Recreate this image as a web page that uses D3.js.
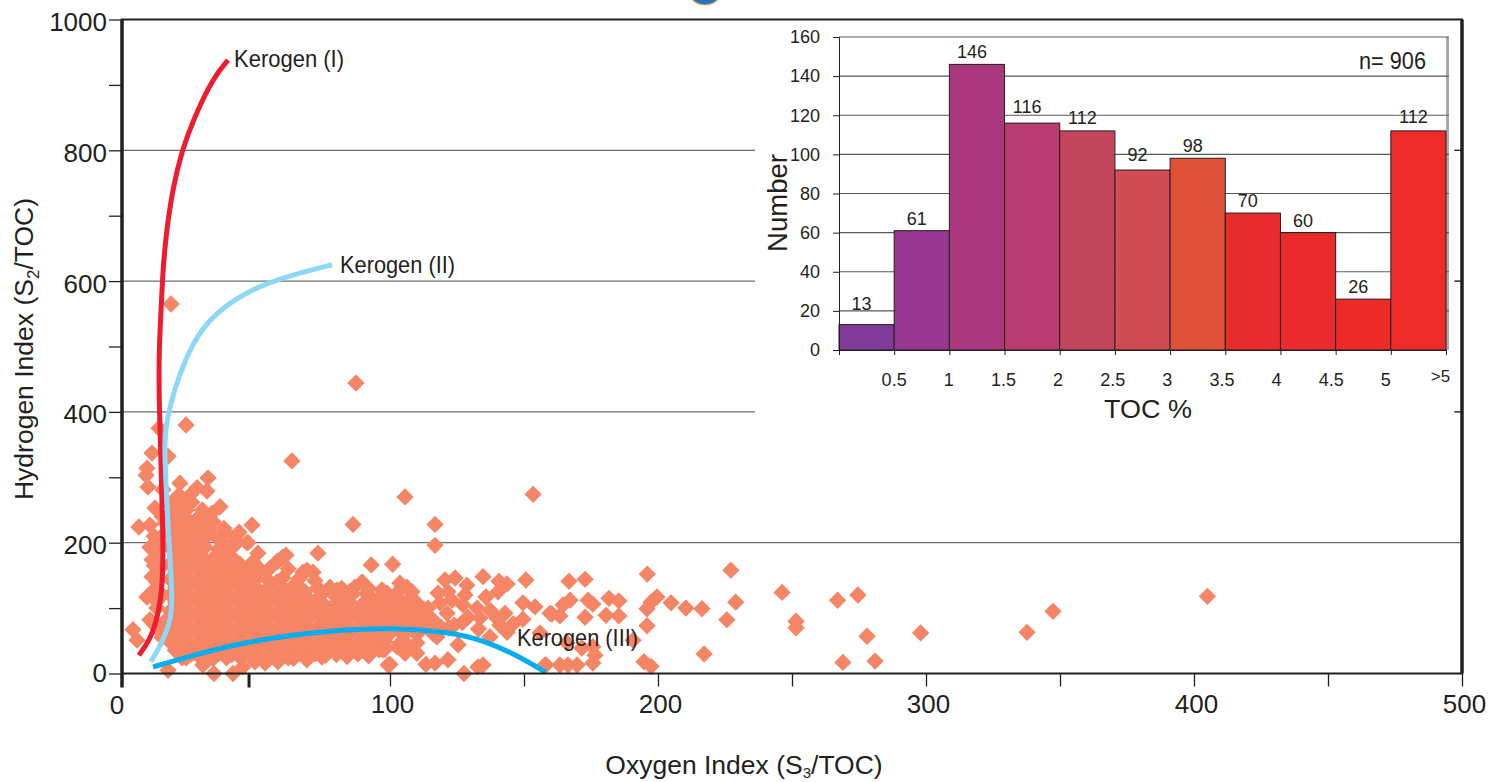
<!DOCTYPE html>
<html>
<head>
<meta charset="utf-8">
<script src="https://cdn.jsdelivr.net/npm/d3@7"></script>
<style>
  body { margin: 0; background: #fff; }
  text { font-family: "Liberation Sans", Arial, sans-serif; fill: #231f20; }
</style>
</head>
<body>
<div id="chart"></div>
<script>
// histogram of TOC
const tocLabels = ["0.5", "1", "1.5", "2", "2.5", "3", "3.5", "4", "4.5", "5", ">5"];
const tocCounts = [13, 61, 146, 116, 112, 92, 98, 70, 60, 26, 112];
const tocColors = ["#7f3b97", "#973792", "#a9387e", "#b83c70", "#c3475c", "#cf4b4f", "#e0513a", "#e82c2d", "#e92b2b", "#ee2a29", "#ef2b29"];
const countTicks = [0, 20, 40, 60, 80, 100, 120, 140, 160];

// maturation paths, [oxygen index, hydrogen index]
const kerogenI = [[39.6,938],[34,911],[26.5,846],[22.4,800],[19,743],[16.8,683],[15.3,622],[14.6,556],[13.8,495],[13.8,418],[14.6,316],[15.3,215],[15.3,138],[13.4,86],[10.4,51],[6.3,28]];
const kerogenII = [[78.4,625],[60,606],[47.8,586],[37.3,559],[29.1,525],[23.5,479],[19.4,433],[16.8,388],[15.7,357],[16.4,291],[17.5,200],[19,112],[17.9,77],[14.9,47],[10.8,18]];
const kerogenIII = [[11.6,10],[26.5,28],[45,47],[63.8,59],[82.5,67],[100,70],[122.4,63],[134.7,51],[147.4,28],[158,2]];

// samples, [oxygen index, hydrogen index]
const outliers = [
  [18.3,565],[87.3,444],[63.4,325],[23.9,380],[105.6,270],[153.4,274],[86.2,228],[116.8,228],[116.8,196],[227.2,158],
  [101,167],[93,166],[196,152],[246.3,124],[267,112],[274.6,120],[347.4,95],[405,118],[337.7,63],[298,62],[278,57],
  [269,17],[281,19],[251.5,80],[251.5,70],[229,109],[225.7,82],[217.2,30],[216.4,99],[210.4,100],[204.9,108],
  [199.6,117],[197.4,109],[195.9,99],[194.8,18],[197.4,11],[195.9,73]
];
const midSamples = [
  [172.8,144],[166.8,141],[150.7,143],[143.7,137],[140.7,141],[134.7,148],[124.3,146],[120.5,143],[128.7,135],[181.7,115],
  [185.4,111],[180.6,89],[185.4,88],[173.9,112],[175.7,106],[172.8,86],[167.2,112],[164.6,105],[160.4,91],[163.4,88],
  [154.1,102],[149.6,108],[149.6,83],[190.7,51],[156,62],[166,47],[171.6,39],[175.7,41],[176.5,28],[175.7,16],
  [169.8,13],[166.4,13],[163.4,13],[157.8,13],[134.7,13],[132.8,10],[127.6,0],[121.6,21],[116.8,16],[113.4,14],
  [125.4,44],[117.5,56],[143.7,63],[106.3,132],[103.7,138],[98.9,123],[102.6,123],[108.2,125],[106.7,112],[117.9,123],
  [121.6,125],[128,120],[135.8,117],[140.3,125],[114.2,100],[118.7,108],[123.1,112],[127.2,105],[132.5,100],[137.3,97],
  [142.9,92],[116,82],[121.3,92],[129.1,86],[133.6,85],[141,74],[137.3,56],[159.7,92],[158.2,13],[110,47],[106.3,36],
  [110,31],[100,14],[97.4,36],[102.6,41],[108.6,86],[103.7,92],[100,97],[97.4,112],[103.7,66],[110,66],[98.9,77],
  [104.8,51],[113,74],[124,74],[133,68],[127,78],[140,84],[146,76],[122,70]
];
const upperSamples = [
  [46.6,200],[50.7,184],[48.9,171],[60,178],[57.8,171],[73.1,184],[69,158],[71.3,155],[77.6,132],[80.2,128],[68.3,125],
  [89.6,140],[86.9,132],[63.4,132],[57.8,140],[51.5,151],[44,166],[47.8,148],[41.4,154],[72,108],[84.3,117],[91.4,123],
  [13.8,375],[11.2,337],[17.2,332],[9.3,314],[9,303],[9.7,285],[21.6,291],[32.1,299],[31.7,279],[28,284],[25.4,273],
  [20.5,270],[12.3,253],[17.2,261],[15.3,281],[36.6,255],[33.6,245],[27.6,235],[26.5,222],[6.3,224],[10.4,227],[16,230],
  [22.4,239],[24.3,219],[48.5,227],[43.7,216],[35.8,206],[47,200],[31,193],[61.2,181],[58.2,172],[67.5,155],
  [10.4,193],[11.2,174],[11.2,148],[9.3,117],[4.1,67],[5.6,51],[10.4,82],
  [14,200],[13,180],[14,160],[13,140],[15,120],[13,100],[16,80],[14,65],[18,50],[20,35],[16,215],[19,245],[22,255],[15,240],
  [12,210],[12,165],[12,128],[13,110],[12,75],[15,55],[22,270],[26,262],[30,250],[24,250],[30,240],[34,232],[20,258],
  [38,222],[40,210],[43,200],[38,190],[50,165],[55,160],[62,160],[66,145],[72,142],[78,125],[82,130],[92,130],[97,128],[85,125]
];
const lowerSamples = [
  [99.3,13],[98.1,37],[105.6,31],[89.9,36],[82.5,33],[74.6,25],[69,21],[62,24],[58.2,18],[53.4,16],[49.6,18],[41.4,0],
  [34.3,0],[17.2,5],[30.2,13],[45.1,10],[22.4,24],
  [72,30],[76,28],[80,29],[84,26],[88,30],[92,27],[22,42],[27,41],[32,42],[37,41],[42,42],[47,41],[52,42],[57,41],[62,42],
  [67,41],[72,42],[77,41],[82,42],[87,41],[92,42],[26,30],[31,29],[36,30],[41,29],[46,30],[51,29],[56,30],[61,29],[66,30]
];
const denseSamples = [
  [19,240],[24,238],[21,228],[26,229],[30,226],[18,216],[23,217],[28,215],[33,216],[20,204],[25,205],[30,203],[37,204],
  [18,192],[23,193],[28,191],[36,190],[41,192],[20,180],[25,181],[30,179],[35,180],[41,178],
  [18,168],[23,169],[28,167],[33,168],[38,169],[44,167],[20,156],[25,157],[30,155],[35,156],[40,155],[46,156],[52,157],
  [18,144],[23,145],[28,143],[33,144],[38,145],[43,143],[48,144],[54,145],[60,146],
  [20,132],[25,133],[30,131],[35,132],[40,133],[45,131],[50,132],[55,133],[60,131],[66,133],[73,131],
  [18,120],[23,121],[28,119],[33,120],[38,121],[43,119],[48,120],[53,121],[58,119],[63,120],[68,121],[74,119],[80,120],[86,121],[92,119],[97,120],
  [20,108],[25,109],[30,107],[35,108],[40,109],[45,107],[50,108],[55,109],[60,107],[65,108],[70,109],[75,107],[80,108],[85,109],[90,107],[95,108],[100,109],[105,107],[110,108],
  [18,96],[23,97],[28,95],[33,96],[38,97],[43,95],[48,96],[53,97],[58,95],[63,96],[68,97],[73,95],[78,96],[83,97],[88,95],[93,96],[98,97],[103,95],[108,96],[112,97],
  [20,84],[25,85],[30,83],[35,84],[40,85],[45,83],[50,84],[55,85],[60,83],[65,84],[70,85],[75,83],[80,84],[85,85],[90,83],[95,84],[100,85],[105,83],[110,84],[115,85],
  [18,72],[23,73],[28,71],[33,72],[38,73],[43,71],[48,72],[53,73],[58,71],[63,72],[68,73],[73,71],[78,72],[83,73],[88,71],[93,72],[98,73],[103,71],[108,72],[113,73],[119,71],
  [20,60],[25,61],[30,59],[35,60],[40,61],[45,59],[50,60],[55,61],[60,59],[65,60],[70,61],[75,59],[80,60],[85,61],[90,59],[95,60],[100,61],[105,59],[110,60],[116,61],
  [18,48],[23,49],[28,47],[33,48],[38,49],[43,47],[48,48],[53,49],[58,47],[63,48],[68,49],[73,47],[78,48],[83,49],[88,47],[93,48],[98,49],[104,47],
  [20,36],[25,37],[30,35],[35,36],[40,37],[45,35],[50,36],[55,37],[60,35],[65,36],[70,37],[75,35],[80,36],[85,37],[90,35],[96,36],
  [24,24],[29,25],[34,23],[39,24],[44,25],[49,23],[54,24],[59,25],[64,23],[69,26]
];
const samples = [...denseSamples, ...upperSamples, ...midSamples, ...lowerSamples, ...outliers];

const svg = d3.select("#chart").append("svg").attr("width", 1492).attr("height", 782);

const x = d3.scaleLinear().domain([0, 500]).range([122, 1462]);
const y = d3.scaleLinear().domain([0, 1000]).range([673.5, 19.5]);

// logo cut off by the top of the page
svg.append("circle").attr("cx", 705).attr("cy", -13).attr("r", 18)
  .attr("fill", "#2b74b8").attr("stroke", "#e8b06a").attr("stroke-width", 1.2);

// gridlines run the full width, the inset panel covers them
svg.append("g").selectAll("line").data([200, 400, 600, 800]).join("line")
  .attr("x1", x(0)).attr("x2", x(500))
  .attr("y1", d => y(d)).attr("y2", d => y(d))
  .attr("stroke", "#6d6e71").attr("stroke-width", 1.2);

svg.append("rect")
  .attr("x", 755).attr("y", 21).attr("width", 700).attr("height", 404)
  .attr("fill", "#fff");

svg.append("g").selectAll("path").data(samples).join("path")
  .attr("d", d3.symbol().type(d3.symbolSquare).size(150))
  .attr("transform", d => `translate(${x(d[0])},${y(d[1])}) rotate(45)`)
  .attr("fill", "#f58565");

const pathLine = d3.line().x(d => x(d[0])).y(d => y(d[1])).curve(d3.curveBasis);
[[kerogenI, "#ed1c2e"], [kerogenII, "#8dd7f7"], [kerogenIII, "#00aeef"]].forEach(([pts, color]) => {
  svg.append("path").datum(pts)
    .attr("fill", "none").attr("stroke", color).attr("stroke-width", 5)
    .attr("d", pathLine);
});

// frame
svg.append("rect")
  .attr("x", x(0)).attr("y", y(1000)).attr("width", x(500) - x(0)).attr("height", y(0) - y(1000))
  .attr("fill", "none").attr("stroke", "#231f20").attr("stroke-width", 2);
svg.append("line").attr("x1", x(0)).attr("x2", x(0)).attr("y1", y(1000)).attr("y2", y(0) + 14)
  .attr("stroke", "#231f20").attr("stroke-width", 3.5);
svg.append("line").attr("x1", x(500)).attr("x2", x(500)).attr("y1", y(1000)).attr("y2", y(0))
  .attr("stroke", "#231f20").attr("stroke-width", 3.5);

// main axes
const xAxis = d3.axisBottom(x).tickValues(d3.range(50, 501, 50)).tickSize(13).tickPadding(8)
  .tickFormat(d => d % 100 === 0 ? d : "");
const xG = svg.append("g").attr("transform", `translate(0,${y(0)})`).call(xAxis);
const yAxis = d3.axisLeft(y).tickValues(d3.range(0, 1001, 100)).tickSize(13).tickPadding(2)
  .tickFormat(d => d % 200 === 0 ? d : "");
const yG = svg.append("g").attr("transform", `translate(${x(0)},0)`).call(yAxis);
[xG, yG].forEach(g => {
  g.select(".domain").remove();
  g.selectAll("line").attr("stroke", "#231f20").attr("stroke-width", 1.3);
  g.selectAll("text").attr("font-size", 26).attr("font-family", "Liberation Sans").attr("fill", "#231f20");
});
xG.selectAll("text").attr("dx", 2);
yG.selectAll("text").attr("dy", d => (d === 0 ? "0.32em" : "0.42em"));
// the zero label sits apart from the corner
svg.append("text").attr("x", x(0) - 5).attr("y", y(0) + 40).attr("text-anchor", "middle").attr("font-size", 26).text("0");
svg.append("line").attr("x1", x(47.4)).attr("x2", x(47.4)).attr("y1", y(0)).attr("y2", y(0) + 14)
  .attr("stroke", "#231f20").attr("stroke-width", 3);
xG.selectAll(".tick").filter(d => d === 50).select("line").remove();

// right side ticks
svg.append("g").selectAll("line").data([400, 600, 800]).join("line")
  .attr("x1", x(500) - 8).attr("x2", x(500))
  .attr("y1", d => y(d)).attr("y2", d => y(d))
  .attr("stroke", "#231f20").attr("stroke-width", 1);

const yTitle = svg.append("text")
  .attr("transform", "translate(33,349) rotate(-90)")
  .attr("text-anchor", "middle").attr("font-size", 26.5);
yTitle.append("tspan").text("Hydrogen Index (S");
yTitle.append("tspan").attr("font-size", 17).attr("dy", 6).text("2");
yTitle.append("tspan").attr("dy", -6).text("/TOC)");

const xTitle = svg.append("text")
  .attr("x", 744).attr("y", 774)
  .attr("text-anchor", "middle").attr("font-size", 26.5);
xTitle.append("tspan").text("Oxygen Index (S");
xTitle.append("tspan").attr("font-size", 15).attr("dy", 4).text("3");
xTitle.append("tspan").attr("dy", -4).text("/TOC)");

// curve labels
const curveLabels = [["Kerogen (I)", 234, 67, 110], ["Kerogen (II)", 340, 273, 115], ["Kerogen (III)", 517, 646, 121]];
svg.append("g").selectAll("text").data(curveLabels).join("text")
  .attr("x", d => d[1]).attr("y", d => d[2])
  .attr("font-size", 24)
  .attr("textLength", d => d[3]).attr("lengthAdjust", "spacingAndGlyphs")
  .text(d => d[0]);

// inset histogram
const hx = d3.scaleLinear().domain([0, tocCounts.length]).range([839, 1446]);
const hy = d3.scaleLinear().domain([0, 160]).range([350, 37]);
const inset = svg.append("g");

inset.append("rect").attr("x", hx(11)).attr("y", hy(160)).attr("width", 3).attr("height", hy(0) - hy(160))
  .attr("fill", "#a7a9ac");
inset.append("g").selectAll("line").data(countTicks.slice(1)).join("line")
  .attr("x1", hx(0)).attr("x2", hx(11) + 3)
  .attr("y1", d => hy(d)).attr("y2", d => hy(d))
  .attr("stroke", "#58595b").attr("stroke-width", 1.2);

inset.append("g").selectAll("rect").data(tocCounts).join("rect")
  .attr("x", (d, i) => hx(i)).attr("width", hx(1) - hx(0))
  .attr("y", d => hy(d)).attr("height", d => hy(0) - hy(d))
  .attr("fill", (d, i) => tocColors[i])
  .attr("stroke", "#231f20").attr("stroke-width", 1);

// the value labels do not sit evenly over their bars in the original
const labelLift = [9, 0, 0, 4, 1, 3, 0, 0, 0, 0, 2];
inset.append("g").selectAll("text").data(tocCounts).join("text")
  .attr("x", (d, i) => hx(i + 0.5) - 5).attr("y", (d, i) => hy(d) - 6 - labelLift[i])
  .attr("text-anchor", "middle").attr("font-size", 18)
  .text(d => d);

const hyAxis = d3.axisLeft(hy).tickValues(countTicks).tickSize(6).tickPadding(13);
const hyG = inset.append("g").attr("transform", `translate(${hx(0)},0)`).call(hyAxis);
const hxAxis = d3.axisBottom(hx).tickValues(d3.range(0, 12)).tickSize(5).tickPadding(18)
  .tickFormat(d => d === 0 ? "" : tocLabels[d - 1]);
const hxG = inset.append("g").attr("transform", `translate(0,${hy(0)})`).call(hxAxis);
[hyG, hxG].forEach(g => {
  g.selectAll("line").attr("stroke", "#231f20");
  g.select(".domain").attr("stroke", "#231f20");
  g.selectAll("text").attr("font-size", 18).attr("font-family", "Liberation Sans").attr("fill", "#231f20");
});
hxG.selectAll("text").attr("dx", d => -d * 0.55);
hxG.selectAll("text").filter(d => d === 11).attr("dy", "0.55em").attr("font-size", 17);

inset.append("text")
  .attr("transform", "translate(787,203) rotate(-90)")
  .attr("text-anchor", "middle").attr("font-size", 27.5).text("Number");
inset.append("text")
  .attr("x", 1148).attr("y", 418).attr("text-anchor", "middle").attr("font-size", 26)
  .attr("textLength", 88).attr("lengthAdjust", "spacingAndGlyphs").text("TOC %");
inset.append("text")
  .attr("x", 1359).attr("y", 69).attr("font-size", 23)
  .attr("textLength", 67).attr("lengthAdjust", "spacingAndGlyphs").text("n= 906");
</script>
</body>
</html>
